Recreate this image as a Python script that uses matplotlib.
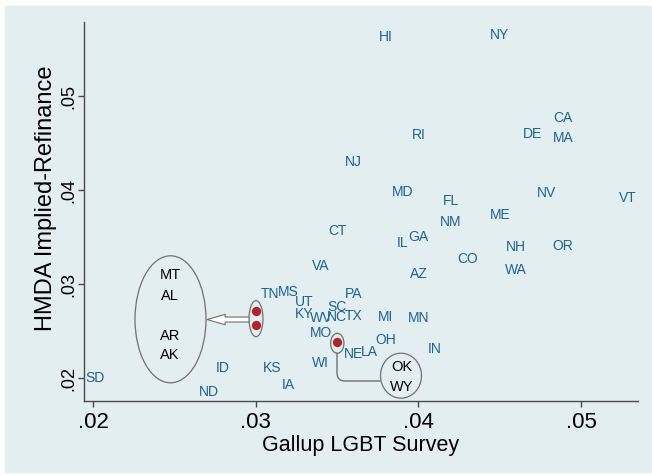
import matplotlib
matplotlib.use("Agg")
import matplotlib.pyplot as plt
from matplotlib.patches import Ellipse, Rectangle

# data (label centre = data point)
states = ["HI", "NY", "CA", "DE", "MA", "RI", "NJ", "MD", "FL", "NV", "VT", "ME",
          "NM", "IL", "GA", "NH", "OR", "CO", "WA", "AZ", "CT", "VA", "TN", "MS",
          "PA", "UT", "SC", "KY", "WV", "NC", "TX", "MO", "MI", "MN", "OH", "IN",
          "LA", "NE", "WI", "ID", "KS", "IA", "ND", "SD"]
gallup = [0.0380, 0.0450, 0.0489, 0.0470, 0.0489, 0.0400, 0.0360, 0.0390, 0.0420,
          0.0479, 0.0529, 0.0450, 0.0420, 0.0390, 0.0400, 0.0460, 0.0489, 0.0430,
          0.0460, 0.0400, 0.0350, 0.0340, 0.0309, 0.0320, 0.0360, 0.0330, 0.0350,
          0.0330, 0.0340, 0.0350, 0.0360, 0.0340, 0.0380, 0.0400, 0.0380, 0.0410,
          0.0370, 0.0360, 0.0340, 0.0280, 0.0310, 0.0320, 0.0271, 0.0201]
hmda = [0.0564, 0.0566, 0.0478, 0.0461, 0.0456, 0.0460, 0.0431, 0.0399, 0.0389,
        0.0398, 0.0393, 0.0374, 0.0367, 0.0345, 0.0351, 0.0340, 0.0341, 0.0328,
        0.0316, 0.0312, 0.0357, 0.0320, 0.0290, 0.0293, 0.0290, 0.0282, 0.0277,
        0.0269, 0.0265, 0.0266, 0.0267, 0.0249, 0.0266, 0.0265, 0.0241, 0.0232,
        0.0229, 0.0227, 0.0217, 0.0212, 0.0212, 0.0194, 0.0186, 0.0201]

# overlapping states shown as red dots
dot_x = [0.0300, 0.0300, 0.0350]
dot_y = [0.0271, 0.0256, 0.0238]
group_left = ["MT", "AL", "AR", "AK"]
group_left_y = [0.0311, 0.0288, 0.0246, 0.0225]
group_right = ["OK", "WY"]
group_right_y = [0.0213, 0.0192]

ticks = [0.02, 0.03, 0.04, 0.05]
tick_labels = [".02", ".03", ".04", ".05"]

bg = "#E2EEF0"
blue = "#21618F"
gray = "#707070"

plt.rcParams["font.family"] = ["Liberation Sans", "DejaVu Sans"]

fig = plt.figure(figsize=(6.52, 4.77), dpi=100, facecolor="white")
fig.patches.append(Rectangle((5/652, 1-473/477), 646/652, 466/477,
                             transform=fig.transFigure, color=bg, zorder=-5))
ax = fig.add_axes([84/652, 1-402/477, 554/652, 379/477])
ax.set_facecolor(bg)
ax.set_xlim(0.019447, 0.053497)
ax.set_ylim(0.017553, 0.057872)

for s, x, y in zip(states, gallup, hmda):
    ax.text(x, y, s, color=blue, fontsize=10, ha="center", va="center")

ax.scatter(dot_x, dot_y, s=45, color="#B0252D", zorder=3, linewidths=0)

# annotation shapes
ax.add_patch(Ellipse((0.024763, 0.026245), 0.004364, 0.013511, fill=False, ec=gray, lw=0.9))
ax.add_patch(Ellipse((0.030018, 0.026309), 0.00086, 0.00383, fill=False, ec=gray, lw=0.9))
ax.add_patch(Ellipse((0.035015, 0.023691), 0.000817, 0.002128, fill=False, ec=gray, lw=0.9))
ax.add_patch(Ellipse((0.038931, 0.020245), 0.00252, 0.004787, fill=False, ec=gray, lw=0.9))

for s, y in zip(group_left, group_left_y):
    ax.text(0.024733, y, s, color="black", fontsize=10.5, ha="center", va="center")
for s, y in zip(group_right, group_right_y):
    ax.text(0.039, y, s, color="black", fontsize=10.5, ha="center", va="center")

ax.annotate("", xy=(0.02701, 0.02622), xytext=(0.02959, 0.02622),
            arrowprops=dict(arrowstyle="simple,head_length=1.3,head_width=0.75,tail_width=0.36",
                            fc="white", ec=gray, lw=0.8, shrinkA=0, shrinkB=0,
                            mutation_scale=10))
ax.annotate("", xy=(0.034997, 0.02266), xytext=(0.03764, 0.019681),
            arrowprops=dict(arrowstyle="-", color=gray, lw=1.0, shrinkA=0, shrinkB=0,
                            connectionstyle="angle,angleA=0,angleB=90,rad=8"))

for side in ["top", "right"]:
    ax.spines[side].set_visible(False)
for side in ["left", "bottom"]:
    ax.spines[side].set_color("#4a4a4a")
    ax.spines[side].set_linewidth(1.0)

ax.set_xticks(ticks)
ax.set_xticklabels(tick_labels, fontsize=16)
ax.set_yticks(ticks)
ax.set_yticklabels(tick_labels, fontsize=13, rotation=90, va="center")
ax.tick_params(axis="x", length=4, width=1, color="#4a4a4a", pad=3.5)
ax.tick_params(axis="y", length=4, width=1, color="#4a4a4a", pad=1)

ax.set_xlabel("Gallup LGBT Survey", fontsize=15.5)
ax.set_ylabel("HMDA Implied-Refinance", fontsize=17)
ax.xaxis.set_label_coords(0.5, -0.087)
ax.yaxis.set_label_coords(-0.049, 0.538)

fig.savefig("out.png", dpi=100, facecolor="white")
